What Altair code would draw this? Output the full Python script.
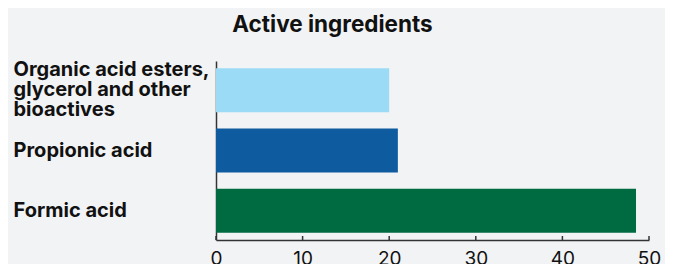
import altair as alt
import pandas as pd

categories = ["Organic acid esters,\nglycerol and other\nbioactives", "Propionic acid", "Formic acid"]
values = [20.0, 21.0, 48.5]
colors = ["#9BDBF6", "#0E5BA0", "#006A40"]
tick_values = [0, 10, 20, 30, 40, 50]

df = pd.DataFrame({"category": categories, "value": values, "color": colors})
ticks_df = pd.DataFrame({"t": tick_values})

W, H = 433, 179
FONT = "Inter"

x_scale = alt.Scale(domain=[0, 50], nice=False)

bars = alt.Chart(df).mark_bar().encode(
    x=alt.X("value:Q", scale=x_scale,
            axis=alt.Axis(values=tick_values, title=None, grid=False, tickSize=0,
                          labelPadding=9, labelFontSize=19, labelFont=FONT,
                          labelColor="#111111", domainColor="#333333", domainWidth=1.5,
                          labelFlush=False)),
    y=alt.Y("category:N", sort=categories,
            scale=alt.Scale(paddingInner=0.27, paddingOuter=0.12),
            axis=alt.Axis(title=None, ticks=False, labelAlign="left", labelPadding=203,
                          labelExpr="split(datum.label, '\\n')", labelLineHeight=20,
                          labelOffset={"condition": {"test": "indexof(datum.value, '\\n') >= 0", "value": -20}, "value": 0},
                          labelFontSize=20, labelFont=FONT, labelFontWeight="bold",
                          labelColor="#111111", domainColor="#333333", domainWidth=1.5,
                          labelLimit=400)),
    color=alt.Color("color:N", scale=None, legend=None),
)

tick_rules = alt.Chart(ticks_df).mark_rule(color="#333333", strokeWidth=1.5).encode(
    x=alt.X("t:Q", scale=x_scale),
    y=alt.value(H - 4),
    y2=alt.value(H),
)

chart = alt.layer(bars, tick_rules).properties(
    width=W,
    height=H,
    title=alt.TitleParams("Active ingredients", fontSize=22.5, font=FONT, fontWeight="bold",
                          color="#111111", anchor="middle", dx=-100, baseline="alphabetic",
                          offset=5),
    autosize="none",
    padding={"left": 208, "top": 53, "right": 16, "bottom": 24},
).configure(background="#F2F3F5").configure_view(stroke=None)

chart.save("out.html", embed_options={"renderer": "svg", "actions": False})
